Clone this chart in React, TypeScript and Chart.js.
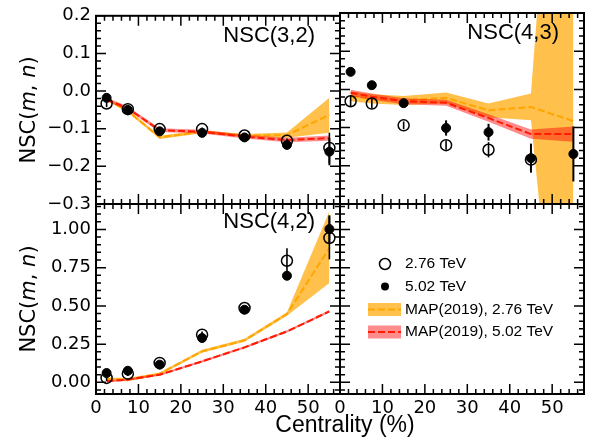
import React, { useEffect, useRef } from "react";
import { Chart, registerables } from "chart.js";

Chart.register(...registerables);

const W = 601;
const H = 441;

// ---------- axes ----------
const centrality = [2.5, 7.5, 15, 25, 35, 45, 55];
const X_MAX = 57.5;
const X_MINOR = 2;
const xTickValues = [0, 10, 20, 30, 40, 50];
const xTickLabels = ["0", "10", "20", "30", "40", "50"];
const topYTickValues = [-0.3, -0.2, -0.1, 0.0, 0.1, 0.2];
const topYTickLabels = ["\u22120.3", "\u22120.2", "\u22120.1", "0.0", "0.1", "0.2"];
const botYTickValues = [0, 0.25, 0.5, 0.75, 1.0];
const botYTickLabels = ["0.00", "0.25", "0.50", "0.75", "1.00"];

// ---------- NSC(3,2) ----------
const nsc32_276 = [-0.033, -0.048, -0.101, -0.101, -0.118, -0.132, -0.151];
const nsc32_276_err = [0.01, 0.004, 0.004, 0.004, 0.004, 0.006, 0.04];
const nsc32_502 = [-0.018, -0.05, -0.107, -0.111, -0.123, -0.143, -0.161];
const nsc32_502_err = [0.004, 0.004, 0.004, 0.004, 0.004, 0.006, 0.036];
const nsc32_map276 = [-0.022, -0.053, -0.123, -0.108, -0.118, -0.117, -0.063];
const nsc32_map276_lo = [-0.026, -0.057, -0.127, -0.112, -0.122, -0.124, -0.111];
const nsc32_map276_hi = [-0.018, -0.049, -0.119, -0.104, -0.114, -0.11, -0.018];
const nsc32_map502 = [-0.022, -0.046, -0.104, -0.108, -0.121, -0.13, -0.125];
const nsc32_map502_lo = [-0.027, -0.051, -0.109, -0.113, -0.126, -0.136, -0.132];
const nsc32_map502_hi = [-0.017, -0.041, -0.099, -0.103, -0.116, -0.124, -0.118];

// ---------- NSC(4,3) ----------
const nsc43_276 = [-0.031, -0.037, -0.094, -0.146, -0.158, -0.184, null];
const nsc43_276_err = [0.015, 0.012, 0.01, 0.012, 0.02, 0.02, 0];
const nsc43_502 = [0.046, 0.011, -0.036, -0.101, -0.112, -0.18, -0.169];
const nsc43_502_err = [0.005, 0.005, 0.005, 0.02, 0.022, 0.038, 0.072];
const nsc43_map276 = [-0.018, -0.025, -0.029, -0.022, -0.055, -0.046, -0.083];
const nsc43_map276_lo = [-0.031, -0.037, -0.041, -0.036, -0.073, -0.081, -1.18];
const nsc43_map276_hi = [-0.005, -0.013, -0.017, -0.008, -0.037, -0.011, 1.45];
const nsc43_map502 = [-0.009, -0.019, -0.031, -0.035, -0.075, -0.117, -0.117];
const nsc43_map502_lo = [-0.017, -0.027, -0.039, -0.043, -0.085, -0.129, -0.137];
const nsc43_map502_hi = [-0.001, -0.011, -0.023, -0.027, -0.065, -0.105, -0.097];

// ---------- NSC(4,2) ----------
const nsc42_276 = [0.029, 0.057, 0.127, 0.312, 0.486, 0.795, 0.944];
const nsc42_276_err = [0.02, 0.015, 0.01, 0.02, 0.015, 0.082, 0.14];
const nsc42_502 = [0.061, 0.076, 0.116, 0.29, 0.475, 0.697, 1.002];
const nsc42_502_err = [0.01, 0.01, 0.01, 0.01, 0.01, 0.015, 0.09];
const nsc42_map276 = [0.022, 0.018, 0.057, 0.203, 0.275, 0.447, 0.878];
const nsc42_map276_lo = [0.012, 0.008, 0.049, 0.193, 0.265, 0.435, 0.65];
const nsc42_map276_hi = [0.032, 0.028, 0.065, 0.213, 0.285, 0.459, 1.118];
const nsc42_map502 = [0.007, 0.018, 0.05, 0.137, 0.229, 0.333, 0.464];
const nsc42_map502_lo = [0.0, 0.011, 0.043, 0.13, 0.222, 0.326, 0.457];
const nsc42_map502_hi = [0.014, 0.025, 0.057, 0.144, 0.236, 0.34, 0.471];

// ---------- legend ----------
const legendLabels = ["2.76 TeV", "5.02 TeV", "MAP(2019), 2.76 TeV", "MAP(2019), 5.02 TeV"];

// ---------- styles ----------
const ORANGE = "#ffa500";
const ORANGE_FILL = "rgba(255,165,0,0.7)";
const RED = "#ff1a00";
const RED_FILL = "rgba(255,0,0,0.45)";
const TICK_FONT = '"DejaVu Sans"';
const SANS = '"Liberation Sans", Arial, sans-serif';

type Rect = { l: number; t: number; r: number; b: number };
type Band = { c: number[]; lo: number[]; hi: number[]; line: string; fill: string };
type Pts = { y: (number | null)[]; err: number[]; filled: boolean };
type Spec = {
  rect: Rect;
  yMin: number;
  yMax: number;
  yTicks: number[];
  yLabels: string[];
  yMinor: number;
  showX: boolean;
  showY: boolean;
  title?: string;
  titleBase?: number;
  bands: Band[];
  pts: Pts[];
  legend?: boolean;
  yTitle?: boolean;
  xTitle?: boolean;
};

const bandsFor = (
  c276: number[], lo276: number[], hi276: number[],
  c502: number[], lo502: number[], hi502: number[]
): Band[] => [
  { c: c276, lo: lo276, hi: hi276, line: ORANGE, fill: ORANGE_FILL },
  { c: c502, lo: lo502, hi: hi502, line: RED, fill: RED_FILL },
];

const specs: Spec[] = [
  {
    rect: { l: 96, t: 13, r: 340, b: 204 },
    yMin: -0.3, yMax: 0.2, yTicks: topYTickValues, yLabels: topYTickLabels, yMinor: 0.02,
    showX: false, showY: true, title: "NSC(3,2)", titleBase: 26.3, yTitle: true,
    bands: bandsFor(nsc32_map276, nsc32_map276_lo, nsc32_map276_hi, nsc32_map502, nsc32_map502_lo, nsc32_map502_hi),
    pts: [
      { y: nsc32_276, err: nsc32_276_err, filled: false },
      { y: nsc32_502, err: nsc32_502_err, filled: true },
    ],
  },
  {
    rect: { l: 340, t: 13, r: 584, b: 204 },
    yMin: -0.3, yMax: 0.2, yTicks: topYTickValues, yLabels: topYTickLabels, yMinor: 0.02,
    showX: false, showY: false, title: "NSC(4,3)", titleBase: 26.3,
    bands: bandsFor(nsc43_map276, nsc43_map276_lo, nsc43_map276_hi, nsc43_map502, nsc43_map502_lo, nsc43_map502_hi),
    pts: [
      { y: nsc43_276, err: nsc43_276_err, filled: false },
      { y: nsc43_502, err: nsc43_502_err, filled: true },
    ],
  },
  {
    rect: { l: 96, t: 204, r: 340, b: 394 },
    yMin: -0.076, yMax: 1.166, yTicks: botYTickValues, yLabels: botYTickLabels, yMinor: 0.05,
    showX: true, showY: true, title: "NSC(4,2)", titleBase: 24.3, yTitle: true, xTitle: true,
    bands: bandsFor(nsc42_map276, nsc42_map276_lo, nsc42_map276_hi, nsc42_map502, nsc42_map502_lo, nsc42_map502_hi),
    pts: [
      { y: nsc42_276, err: nsc42_276_err, filled: false },
      { y: nsc42_502, err: nsc42_502_err, filled: true },
    ],
  },
  {
    rect: { l: 340, t: 204, r: 584, b: 394 },
    yMin: -0.076, yMax: 1.166, yTicks: botYTickValues, yLabels: botYTickLabels, yMinor: 0.05,
    showX: true, showY: false, legend: true,
    bands: [], pts: [],
  },
];

const xy = (vals: (number | null)[]) => centrality.map((x, i) => ({ x, y: vals[i] }));

function buildDatasets(spec: Spec) {
  const ds: any[] = [];
  let order = 100;
  spec.bands.forEach((b) => {
    ds.push({
      data: xy(b.hi), borderColor: "rgba(0,0,0,0)", borderWidth: 0, pointRadius: 0,
      fill: "+1", backgroundColor: b.fill, order, tension: 0,
    });
    ds.push({
      data: xy(b.lo), borderColor: "rgba(0,0,0,0)", borderWidth: 0, pointRadius: 0,
      fill: false, order, tension: 0,
    });
    order--;
    ds.push({
      data: xy(b.c), borderColor: b.line, borderWidth: 2, borderDash: [7, 3],
      pointRadius: 0, fill: false, order, tension: 0,
    });
    order--;
  });
  spec.pts.forEach((p) => {
    ds.push({
      data: xy(p.y), showLine: false,
      pointRadius: p.filled ? 4.5 : 5.5,
      pointBorderWidth: p.filled ? 1 : 1.5,
      pointBackgroundColor: p.filled ? "#000" : "rgba(0,0,0,0)",
      pointBorderColor: "#000",
      borderColor: "#000",
      backgroundColor: p.filled ? "#000" : "rgba(0,0,0,0)",
      fill: false,
      order,
    });
    order--;
  });
  return ds;
}

function drawYTitle(ctx: CanvasRenderingContext2D, cx: number, cy: number) {
  const size = 21;
  const parts: [string, boolean][] = [["NSC(", false], ["m", true], [", ", false], ["n", true], [")", false]];
  ctx.save();
  ctx.translate(cx, cy);
  ctx.rotate(-Math.PI / 2);
  ctx.fillStyle = "#000";
  ctx.textBaseline = "alphabetic";
  ctx.textAlign = "left";
  const fonts = parts.map(([, it]) => `${it ? "italic " : ""}${size}px ${TICK_FONT}`);
  const widths = parts.map(([t], i) => {
    ctx.font = fonts[i];
    return ctx.measureText(t).width;
  });
  const total = widths.reduce((a, b) => a + b, 0);
  let x = -total / 2;
  parts.forEach(([t], i) => {
    ctx.font = fonts[i];
    ctx.fillText(t, x, 0);
    x += widths[i];
  });
  ctx.restore();
}

function makeDeco(spec: Spec) {
  return {
    id: "deco",
    afterDatasetsDraw(chart: any) {
      const ctx: CanvasRenderingContext2D = chart.ctx;
      const xs = chart.scales.x;
      const ys = chart.scales.y;
      const ca = chart.chartArea;
      ctx.save();
      ctx.strokeStyle = "#000";
      ctx.beginPath();
      ctx.rect(ca.left, ca.top, ca.right - ca.left, ca.bottom - ca.top);
      ctx.clip();
      // error bars
      spec.pts.forEach((p) => {
        ctx.lineWidth = p.filled ? 2 : 1.6;
        p.y.forEach((v, i) => {
          if (v === null || !p.err[i]) return;
          const px = xs.getPixelForValue(centrality[i]);
          ctx.beginPath();
          ctx.moveTo(px, ys.getPixelForValue(v - p.err[i]));
          ctx.lineTo(px, ys.getPixelForValue(v + p.err[i]));
          ctx.stroke();
        });
      });
      // ticks (inward, all four sides)
      const MAJ = 10;
      const MIN = 5;
      ctx.lineWidth = 1.5;
      const nX = Math.floor(X_MAX / X_MINOR + 1e-9);
      for (let i = 0; i <= nX; i++) {
        const v = i * X_MINOR;
        const major = xTickValues.some((t) => Math.abs(t - v) < 1e-9);
        const len = major ? MAJ : MIN;
        const px = xs.getPixelForValue(v);
        ctx.beginPath();
        ctx.moveTo(px, ca.bottom);
        ctx.lineTo(px, ca.bottom - len);
        ctx.moveTo(px, ca.top);
        ctx.lineTo(px, ca.top + len);
        ctx.stroke();
      }
      const i0 = Math.ceil(spec.yMin / spec.yMinor - 1e-9);
      const i1 = Math.floor(spec.yMax / spec.yMinor + 1e-9);
      for (let i = i0; i <= i1; i++) {
        const v = i * spec.yMinor;
        const major = spec.yTicks.some((t) => Math.abs(t - v) < 1e-9);
        const len = major ? MAJ : MIN;
        const py = ys.getPixelForValue(v);
        ctx.beginPath();
        ctx.moveTo(ca.left, py);
        ctx.lineTo(ca.left + len, py);
        ctx.moveTo(ca.right, py);
        ctx.lineTo(ca.right - len, py);
        ctx.stroke();
      }
      ctx.restore();
      // frame
      ctx.save();
      ctx.strokeStyle = "#000";
      ctx.lineWidth = 2;
      ctx.strokeRect(ca.left, ca.top, ca.right - ca.left, ca.bottom - ca.top);
      ctx.restore();
    },
    afterDraw(chart: any) {
      const ctx: CanvasRenderingContext2D = chart.ctx;
      const ca = chart.chartArea;
      ctx.save();
      ctx.fillStyle = "#000";
      if (spec.title) {
        ctx.font = `22px ${SANS}`;
        ctx.textAlign = "right";
        ctx.textBaseline = "alphabetic";
        ctx.fillText(spec.title, ca.right - 25, ca.top + (spec.titleBase || 25));
      }
      if (spec.yTitle) {
        drawYTitle(ctx, 35, (ca.top + ca.bottom) / 2);
      }
      if (spec.xTitle) {
        ctx.font = `23px ${SANS}`;
        ctx.textAlign = "center";
        ctx.textBaseline = "alphabetic";
        ctx.fillText("Centrality (%)", 345, 432);
      }
      if (spec.legend) {
        const mx = ca.left + 45;
        const tx = ca.left + 65;
        const rows = [264, 286.5, 309.5, 332].map((v) => v - 204 + ca.top);
        ctx.font = `15.5px ${SANS}`;
        ctx.textAlign = "left";
        ctx.textBaseline = "middle";
        // open circle
        ctx.strokeStyle = "#000";
        ctx.lineWidth = 1.5;
        ctx.beginPath();
        ctx.arc(mx, rows[0], 5.5, 0, Math.PI * 2);
        ctx.stroke();
        // filled circle
        ctx.beginPath();
        ctx.arc(mx, rows[1], 4, 0, Math.PI * 2);
        ctx.fill();
        // band swatches
        const sw = [
          { fill: ORANGE_FILL, line: ORANGE },
          { fill: RED_FILL, line: RED },
        ];
        sw.forEach((s, k) => {
          const y = rows[2 + k];
          ctx.fillStyle = s.fill;
          ctx.fillRect(ca.left + 28, y - 6.5, 33, 13);
          ctx.strokeStyle = s.line;
          ctx.lineWidth = 2;
          ctx.setLineDash([7, 3]);
          ctx.beginPath();
          ctx.moveTo(ca.left + 28, y);
          ctx.lineTo(ca.left + 61, y);
          ctx.stroke();
          ctx.setLineDash([]);
        });
        ctx.fillStyle = "#000";
        legendLabels.forEach((t, k) => ctx.fillText(t, tx, rows[k]));
      }
      ctx.restore();
    },
  };
}

function makeConfig(spec: Spec): any {
  const yW = spec.showY ? 60 : 0;
  const xH = spec.showX ? 40 : 0;
  return {
    type: "line",
    data: { datasets: buildDatasets(spec) },
    options: {
      responsive: false,
      maintainAspectRatio: false,
      animation: false,
      devicePixelRatio: 1,
      events: [],
      layout: {
        padding: {
          left: spec.rect.l - yW,
          right: W - spec.rect.r,
          top: spec.rect.t,
          bottom: H - spec.rect.b - xH,
        },
      },
      plugins: {
        legend: { display: false },
        tooltip: { enabled: false },
        title: { display: false },
      },
      scales: {
        x: {
          type: "linear",
          min: 0,
          max: X_MAX,
          afterFit: (s: any) => {
            s.height = xH;
          },
          afterBuildTicks: (s: any) => {
            s.ticks = xTickValues.map((v) => ({ value: v }));
          },
          ticks: {
            display: spec.showX,
            autoSkip: false,
            maxRotation: 0,
            color: "#000",
            padding: 4,
            font: { family: TICK_FONT, size: 18 },
            callback: (_v: any, i: number) => xTickLabels[i],
          },
          grid: { display: false, drawTicks: false },
          border: { display: false },
        },
        y: {
          type: "linear",
          min: spec.yMin,
          max: spec.yMax,
          afterFit: (s: any) => {
            s.width = yW;
          },
          afterBuildTicks: (s: any) => {
            s.ticks = spec.yTicks.map((v) => ({ value: v }));
          },
          ticks: {
            display: spec.showY,
            autoSkip: false,
            color: "#000",
            padding: 5,
            font: { family: TICK_FONT, size: 18 },
            callback: (_v: any, i: number) => spec.yLabels[i],
          },
          grid: { display: false, drawTicks: false },
          border: { display: false },
        },
      },
    },
    plugins: [makeDeco(spec)],
  };
}

export default function App() {
  const refs = [useRef<HTMLCanvasElement>(null), useRef<HTMLCanvasElement>(null), useRef<HTMLCanvasElement>(null), useRef<HTMLCanvasElement>(null)];
  useEffect(() => {
    const charts = specs.map((s, i) => new Chart(refs[i].current as HTMLCanvasElement, makeConfig(s)));
    return () => charts.forEach((c) => c.destroy());
  }, []);
  return (
    <div style={{ position: "fixed", left: 0, top: 0, width: W, height: H, background: "#fff" }}>
      {refs.map((r, i) => (
        <canvas
          key={i}
          ref={r}
          width={W}
          height={H}
          style={{ position: "absolute", left: 0, top: 0, width: W, height: H }}
        />
      ))}
    </div>
  );
}
